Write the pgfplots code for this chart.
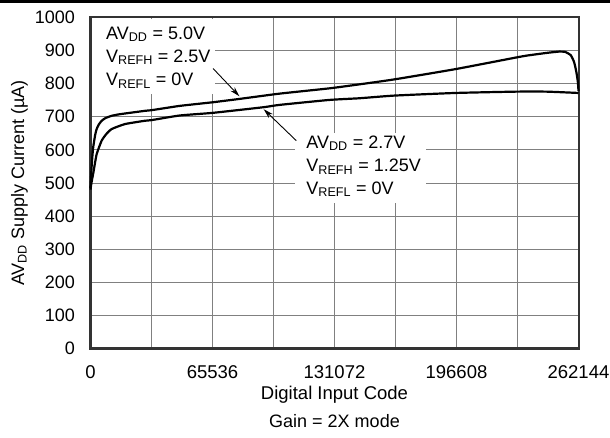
\documentclass[border=0pt]{standalone}
\usepackage{fontspec}
\setmainfont{Liberation Sans}
\usepackage{pgfplots}
\pgfplotsset{compat=1.18}
\usetikzlibrary{arrows.meta}

\definecolor{gridgray}{gray}{0.5}
\definecolor{framegray}{gray}{0.2}

% AVDD = 5.0V, VREFH = 2.5V
\newcommand{\curveA}{
(0,485) (500,540) (1000,580) (1500,610) (2500,645) (3300,663) (4500,677)
(6000,688) (8000,696) (11360,703) (16000,708) (29200,718) (32800,720)
(48000,733) (65830,744) (80000,754) (101600,770) (128400,786) (144400,798)
(163200,813) (196000,844) (228500,879) (234500,885) (245000,893)
(251700,897) (255000,896) (258000,886) (259800,865) (261000,835)
(261800,805) (262144,778)
}
% AVDD = 2.7V, VREFH = 1.25V
\newcommand{\curveB}{
(0,480) (500,500) (1500,530) (3300,587) (6000,628) (8500,648) (11360,663)
(18500,678) (29200,688) (32800,690) (48000,704) (65830,712) (93000,729)
(101600,736) (128400,751) (144400,756) (163000,764) (196000,772)
(228500,776) (245000,776) (262144,772)
}

\newcommand{\ann}{\fontsize{18bp}{21bp}\selectfont}

\begin{document}
\fontsize{18bp}{21bp}\selectfont
\begin{tikzpicture}
\useasboundingbox (0,0) rectangle (610bp,438bp);
\draw[line width=2.5bp] (0,436.5bp) -- (610bp,436.5bp);
\begin{axis}[
  at={(90.5bp,89.5bp)}, anchor=south west,
  scale only axis, width=488bp, height=331bp,
  xmin=0, xmax=262144, ymin=0, ymax=1000,
  clip=false,
  scaled x ticks=false, scaled y ticks=false,
  xtick={0,65536,131072,196608,262144},
  xticklabels={0,65536,131072,196608,262144},
  minor xtick={32768,98304,163840,229376},
  ytick={0,100,200,300,400,500,600,700,800,900,1000},
  yticklabels={0,100,200,300,400,500,600,700,800,900,1000},
  /pgf/number format/assume math mode=true,
  grid=both,
  major grid style={gridgray, line width=0.8bp},
  minor grid style={gridgray, line width=0.8bp},
  axis line style={framegray, line width=2bp},
  tick style={draw=none},
  xticklabel style={font=\fontsize{18.5bp}{21bp}\selectfont, anchor=base, inner sep=0pt, yshift=-29.5bp},
  yticklabel style={font=\fontsize{18bp}{21bp}\selectfont, anchor=east, inner sep=0pt, xshift=-15.5bp},
  xlabel={Digital Input Code},
  xlabel style={font=\fontsize{18.5bp}{21bp}\selectfont, at={(rel axis cs:0.5,0)}, anchor=base, yshift=-51bp},
]
\addplot[black, line width=2.2bp, smooth, tension=0.3] coordinates {\curveA};
\addplot[black, line width=2.2bp, smooth, tension=0.3] coordinates {\curveB};

% y label
\node[rotate=90, anchor=base, font=\fontsize{18bp}{21bp}\selectfont] at (axis cs:-35722,500) {AV\textsubscript{DD} Supply Current (µA)};

% annotation boxes
\fill[white] (axis cs:600,996) rectangle (axis cs:66745,769);
\fill[white] (axis cs:109630,651) rectangle (axis cs:180400,440);

\node[anchor=base west, inner sep=0pt, font=\ann] at (axis cs:8310,935) {AV\textsubscript{DD} = 5.0V};
\node[anchor=base west, inner sep=0pt, font=\ann] at (axis cs:8310,865) {V\textsubscript{REFH} = 2.5V};
\node[anchor=base west, inner sep=0pt, font=\ann] at (axis cs:8310,795) {V\textsubscript{REFL} = 0V};

\node[anchor=base west, inner sep=0pt, font=\ann] at (axis cs:115900,605) {AV\textsubscript{DD} = 2.7V};
\node[anchor=base west, inner sep=0pt, font=\ann] at (axis cs:115900,534) {V\textsubscript{REFH} = 1.25V};
\node[anchor=base west, inner sep=0pt, font=\ann] at (axis cs:115900,466) {V\textsubscript{REFL} = 0V};

\draw[line width=0.9bp, -{Stealth[length=10bp,width=5.5bp]}] (axis cs:65830,846) -- (axis cs:80000,762);
\draw[line width=0.9bp, -{Stealth[length=10bp,width=5.5bp]}] (axis cs:110540,628) -- (axis cs:93000,723);

\node[anchor=base, font=\fontsize{18bp}{20bp}\selectfont] at (rel axis cs:0.5,0) [yshift=-78.5bp] {Gain = 2X mode};
\end{axis}
\end{tikzpicture}
\end{document}
